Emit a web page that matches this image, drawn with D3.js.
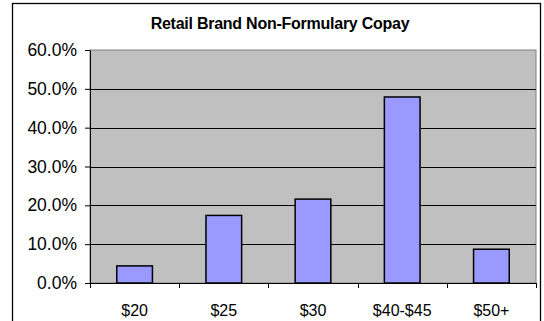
<!DOCTYPE html>
<html>
<head>
<meta charset="utf-8">
<script src="https://cdn.jsdelivr.net/npm/d3@7"></script>
<style>
  body { margin: 0; background: #fff; }
  text { font-family: "Liberation Sans", Arial, sans-serif; }
</style>
</head>
<body>
<div id="chart"></div>
<script>
// chart data
var title = "Retail Brand Non-Formulary Copay";
var categories = ["$20", "$25", "$30", "$40-$45", "$50+"];
var values = [0.044, 0.174, 0.216, 0.479, 0.087];
var yTicks = [0, 0.1, 0.2, 0.3, 0.4, 0.5, 0.6];

var W = 544, H = 321;
var margin = {top: 50, right: 8, bottom: 38, left: 90},
    width = W - margin.left - margin.right,
    height = H - margin.top - margin.bottom;

var svg = d3.select("#chart")
  .append("svg")
    .attr("width", W)
    .attr("height", H);

// outer chart frame
svg.append("rect")
  .attr("x", 12.5)
  .attr("y", 3.5)
  .attr("width", 528)
  .attr("height", 340)
  .style("fill", "#fff")
  .style("stroke", "#000")
  .style("stroke-width", 1.3);

// title
svg.append("text")
  .attr("x", 280)
  .attr("y", 29)
  .attr("text-anchor", "middle")
  .style("font-size", "16px")
  .style("font-weight", "bold")
  .style("letter-spacing", "-0.25px")
  .text(title);

var g = svg.append("g")
  .attr("transform", "translate(" + margin.left + "," + margin.top + ")");

var x = d3.scaleBand()
  .domain(categories)
  .range([0, width])
  .paddingInner(0.6)
  .paddingOuter(0.3);

var y = d3.scaleLinear()
  .domain([0, 0.6])
  .range([height, 0]);

// plot area
g.append("rect")
  .attr("width", width)
  .attr("height", height)
  .style("fill", "#c0c0c0")
  .style("stroke", "#808080")
  .style("stroke-width", 1);

// gridlines
g.selectAll(".grid")
  .data(yTicks.filter(function(d) { return d > 0 && d < 0.6; }))
  .enter()
  .append("line")
    .attr("x1", 0)
    .attr("x2", width)
    .attr("y1", function(d) { return Math.round(y(d)) + 0.5; })
    .attr("y2", function(d) { return Math.round(y(d)) + 0.5; })
    .style("stroke", "#000")
    .style("stroke-width", 1);

// bars
g.selectAll(".bar")
  .data(values)
  .enter()
  .append("rect")
    .attr("x", function(d, i) { return x(categories[i]); })
    .attr("y", function(d) { return y(d); })
    .attr("width", x.bandwidth())
    .attr("height", function(d) { return height - y(d); })
    .style("fill", "#9999ff")
    .style("stroke", "#000")
    .style("stroke-width", 1.5);

// Y axis
var yAxis = g.append("g")
  .call(d3.axisLeft(y)
    .tickValues(yTicks)
    .tickFormat(d3.format(".1%"))
    .tickSize(5)
    .tickSizeOuter(0));
yAxis.selectAll("text")
  .attr("x", -13)
  .style("font-size", "17.5px")
  .style("fill", "#000");
yAxis.select(".domain").style("stroke", "#000");

// X axis, ticks between categories
var xAxis = g.append("g")
  .attr("transform", "translate(0," + height + ")")
  .call(d3.axisBottom(x).tickSize(0).tickSizeOuter(0).tickPadding(22));
xAxis.selectAll("text")
  .style("font-size", "16px")
  .style("fill", "#000");
xAxis.select(".domain").style("stroke", "#000");

var step = width / categories.length;
xAxis.selectAll(".sep")
  .data(d3.range(categories.length + 1))
  .enter()
  .append("line")
    .attr("x1", function(d) { return Math.round(d * step) + 0.5; })
    .attr("x2", function(d) { return Math.round(d * step) + 0.5; })
    .attr("y1", 0)
    .attr("y2", 5)
    .style("stroke", "#000");
</script>
</body>
</html>
